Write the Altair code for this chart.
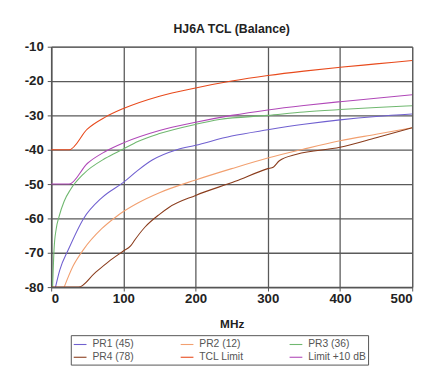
import altair as alt
import pandas as pd

series_names = ["PR1 (45)", "PR2 (12)", "PR3 (36)", "PR4 (78)", "TCL Limit", "Limit +10 dB"]
series_colors = ["#7060d0", "#f2a070", "#70b870", "#8a3c1c", "#e84a1c", "#b048b8"]
series_widths = [1.1, 1.1, 1.1, 1.5, 2.0, 1.5]

pr1_mhz = [6, 12, 24, 45, 70, 100, 120, 140, 174, 200, 250, 300, 350, 400, 450, 500]
pr1_db = [-80, -75, -69, -60, -54, -49.5, -46, -43, -40, -38.7, -36, -34.2, -32.6, -31.3, -30.3, -29.6]

pr2_mhz = [18, 30, 45, 70, 90, 100, 120, 150, 200, 250, 300, 350, 400, 450, 500]
pr2_db = [-80, -74, -69, -63, -59.5, -58, -55.5, -52.5, -48.8, -45.5, -42.4, -39.8, -37.4, -35.5, -33.6]

pr3_mhz = [2, 4, 7, 11, 18, 27, 45, 75, 100, 120, 150, 200, 233, 300, 350, 400, 450, 500]
pr3_db = [-80, -69, -63, -59.4, -55, -51.5, -47, -42.5, -39.8, -37.6, -35.3, -32.6, -31.2, -30, -29, -28.3, -27.7, -27.2]

pr4_mhz = [0, 38, 60, 80, 100, 110, 116, 130, 150, 163, 200, 255, 300, 308, 316, 340, 400, 450, 500]
pr4_db = [-80, -80, -76, -72.5, -69.5, -68, -66.2, -62.5, -58.8, -56.8, -53.3, -49.2, -45.5, -45, -43.2, -41.3, -39.3, -36.5, -33.6]

tcl_mhz = [0, 25, 50, 75, 100, 150, 200, 250, 300, 350, 400, 450, 500]
tcl_db = [-40, -40, -34, -30.5, -28, -24.4, -22, -20, -18.4, -17.1, -16, -15, -14]

lim_mhz = [0, 25, 50, 75, 100, 150, 200, 250, 300, 350, 400, 450, 500]
lim_db = [-50, -50, -44, -40.5, -38, -34.4, -32, -30, -28.4, -27.1, -26, -25, -24]

rows = []
for name, xs, ys in [
    ("PR1 (45)", pr1_mhz, pr1_db),
    ("PR2 (12)", pr2_mhz, pr2_db),
    ("PR3 (36)", pr3_mhz, pr3_db),
    ("PR4 (78)", pr4_mhz, pr4_db),
    ("TCL Limit", tcl_mhz, tcl_db),
    ("Limit +10 dB", lim_mhz, lim_db),
]:
    for x, y in zip(xs, ys):
        rows.append({"series": name, "MHz": x, "dB": y, "order": series_names.index(name)})
df = pd.DataFrame(rows)

font = "Liberation Sans"

chart = alt.Chart(df).mark_line(clip=True, interpolate="monotone").encode(
    x=alt.X("MHz:Q", scale=alt.Scale(domain=[0, 500], nice=False),
            axis=alt.Axis(values=[0, 100, 200, 300, 400, 500], title="MHz", grid=True)),
    y=alt.Y("dB:Q", scale=alt.Scale(domain=[-80, -10], nice=False),
            axis=alt.Axis(values=[-80, -70, -60, -50, -40, -30, -20, -10], title=None, grid=True,
                          labelExpr="'' + datum.value")),
    color=alt.Color("series:N", scale=alt.Scale(domain=series_names, range=series_colors),
                    legend=alt.Legend(title=None, orient="none", legendX=20, legendY=294,
                                      columns=3, direction="horizontal",
                                      symbolType="stroke", symbolSize=169,
                                      symbolStrokeWidth=2, columnPadding=44, rowPadding=0,
                                      labelFont=font, labelFontSize=10.5, labelColor="#555",
                                      strokeColor="#555", padding=2, labelOffset=5)),
    strokeWidth=alt.StrokeWidth("series:N", scale=alt.Scale(domain=series_names, range=series_widths),
                                legend=None),
    detail="series:N",
    order="order:Q",
).properties(
    width=368, height=245,
    background="white",
    title=alt.TitleParams("HJ6A TCL (Balance)", font=font, fontSize=12.5, fontWeight="bold",
                          color="#222", offset=4),
    autosize=alt.AutoSizeParams(type="none"),
    padding={"left": 44, "top": 36, "right": 12, "bottom": 80},
).configure_axis(
    labelFont=font, labelFontSize=13.5, labelFontWeight="bold", labelColor="#222",
    titleFont=font, titleFontSize=12, titleFontWeight="bold", titleColor="#222",
    gridColor="#5a5a5a", gridWidth=1.3, gridOpacity=1,
    domainColor="#555", domainWidth=1.5, tickColor="#555", tickSize=4,
).configure_axisX(titlePadding=14, labelPadding=1).configure_axisY(labelPadding=4).configure_view(
    stroke="#666", strokeWidth=1
)

chart.save("out.html", embed_options={"renderer": "svg", "actions": False})
